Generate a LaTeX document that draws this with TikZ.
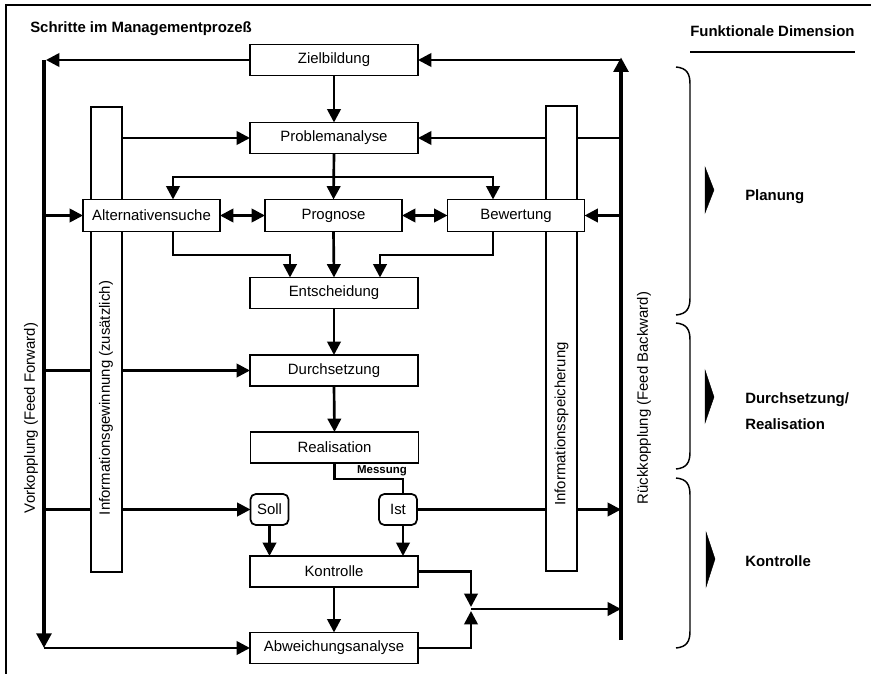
\documentclass[tikz,border=0pt]{standalone}
\usepackage{fontspec}
\setmainfont{Liberation Sans}
\usetikzlibrary{arrows.meta}
\pgfdeclarelayer{bg}
\pgfsetlayers{bg,main}
\newcommand{\dgfont}{\fontsize{11.2pt}{13pt}\selectfont}
\newcommand{\dgsmall}{\fontsize{8.6pt}{10pt}\selectfont\bfseries}
\tikzset{
  box/.style={draw, line width=1.3pt, fill=white, minimum width=126pt, minimum height=23.25pt, inner sep=0pt, outer sep=0pt, font=\dgfont},
  sbox/.style={box, minimum width=102.75pt, minimum height=24pt},
  rbox/.style={box, minimum width=28.5pt, minimum height=23.25pt, rounded corners=4pt},
  bar/.style={draw, line width=1.3pt, fill=white, minimum width=23.25pt, minimum height=348.75pt, inner sep=0pt, outer sep=0pt},
  conn/.style={line width=2pt},
  arr/.style={conn, -{Triangle[length=10pt,width=10pt]}},
  darr/.style={conn, {Triangle[length=10pt,width=10pt]}-{Triangle[length=10pt,width=10pt]}},
  thickline/.style={line width=3pt},
  vlabel/.style={rotate=90, font=\dgfont, inner sep=0pt},
  rlabel/.style={anchor=west, font=\dgfont\bfseries, inner sep=0pt},
  brace/.style={line width=1.1pt},
  pointer/.style={fill=black, draw=black, line width=0.3pt}
}
\begin{document}
\begin{tikzpicture}[x=0.75pt, y=-0.75pt]
\useasboundingbox (0,0) rectangle (871,674);
% frame
\draw[line width=0.8pt] (6,674) -- (6,5) -- (871,5);
% titles
\node[anchor=west, font=\dgfont\bfseries, inner sep=0pt] (title) at (30,28.5) {Schritte im Managementprozeß};
\node[anchor=west, font=\dgfont\bfseries, inner sep=0pt] (fdim) at (690,31) {Funktionale Dimension};
\draw[line width=0.8pt] (fdim.west |- 0,52) -- (fdim.east |- 0,52);

% bars
\node[bar] (barL) at (106.5,339.5) {};
\node[bar] (barR) at (561.5,338.5) {};
\node[vlabel] (tinfoL) at (106,398) {Informationsgewinnung (zusätzlich)};
\node[vlabel] (tinfoR) at (561.5,424) {Informationsspeicherung};
\node[vlabel] (trueck) at (644,398) {Rückkopplung (Feed Backward)};
\node[vlabel] (tvork) at (31,418) {Vorkopplung (Feed Forward)};

% boxes
\node[box] (ziel) at (334,60) {Zielbildung};
\node[box] (prob) at (334,138) {Problemanalyse};
\node[sbox] (alt) at (151.5,215.5) {Alternativensuche};
\node[sbox] (prog) at (333.5,215.5) {Prognose};
\node[sbox] (bew) at (516,215.5) {Bewertung};
\node[box] (ent) at (334,293) {Entscheidung};
\node[box] (durch) at (334,370.5) {Durchsetzung};
\node[box] (real) at (334.5,447.5) {Realisation};
\node[rbox] (soll) at (269.5,509.5) {Soll};
\node[rbox] (ist) at (398,509.5) {Ist};
\node[box] (kon) at (334,571.5) {Kontrolle};
\node[box] (abw) at (334,648) {Abweichungsanalyse};
\node[font=\dgsmall, inner sep=0pt] (mess) at (382,471) {Messung};

% coordinates
\coordinate (LT) at (44,60);
\coordinate (LB) at (44,648);
\coordinate (RT) at (621,60);
\coordinate (RB) at (621,640);
\coordinate (FL) at (173,177);
\coordinate (FR) at (493,177);
\coordinate (EL) at (290,255);
\coordinate (ER) at (380,255);
\coordinate (M) at (403,479);
\coordinate (J) at (471,609);

\begin{pgfonlayer}{bg}
% main flow
\draw[arr] (ziel.south) -- (prob.north);
\draw[arr] (prob.south) -- (prog.north);
\draw[darr] (FL |- alt.north) -- (FL) -- (FR) -- (FR |- bew.north);
\draw[darr] (alt.east) -- (prog.west);
\draw[darr] (prog.east) -- (bew.west);
\draw[arr] (FL |- alt.south) |- (EL) -- (EL |- ent.north);
\draw[arr] (prog.south) -- (ent.north);
\draw[arr] (FR |- bew.south) |- (ER) -- (ER |- ent.north);
\draw[arr] (ent.south) -- (durch.north);
\draw[arr] (durch.south) -- (real.north);
\draw[conn] (real.south) |- (M) -- (M |- ist.north);
\draw[arr] (soll.south) -- (soll.south |- kon.north);
\draw[arr] (M |- ist.south) -- (M |- kon.north);
\draw[arr] (kon.south) -- (abw.north);
\draw[arr] (kon.east) -| ([yshift=1.5pt]J);
\draw[arr] (abw.east) -| ([yshift=-1.5pt]J);
\draw[arr] (J) -- (RT |- J);
% feed forward (left)
\draw[arr] (ziel.west) -- ([xshift=1.5pt]LT);
\draw[arr] (LT |- alt.west) -- (alt.west);
\draw[arr] (LT |- durch.west) -- (durch.west);
\draw[arr] (LT |- soll.west) -- (soll.west);
\draw[arr] (barL.east |- prob.west) -- (prob.west);
\draw[arr] (LB) -- (abw.west);
% feed backward (right)
\draw[arr] (RT) -- (ziel.east);
\draw[arr] (RT |- prob.east) -- (prob.east);
\draw[arr] (RT |- bew.east) -- (bew.east);
\draw[arr] (ist.east) -- (RT |- ist.east);
% thick lines
\draw[thickline, -{Triangle[length=11pt,width=11pt]}] (LT) -- (LB);
\draw[thickline, -{Triangle[length=11pt,width=11pt]}] (RB) -- ([yshift=2pt]RT);
\end{pgfonlayer}

% braces and dimension labels
\draw[brace] (676,67) .. controls (687,68) and (690,74) .. (690,84) -- (690,298) .. controls (690,308) and (687,314) .. (676,315);
\draw[brace] (676,323) .. controls (687,324) and (690,330) .. (690,340) -- (690,452) .. controls (690,462) and (687,468) .. (676,469);
\draw[brace] (676,478) .. controls (687,479) and (690,485) .. (690,495) -- (690,631) .. controls (690,641) and (687,647) .. (676,648);
\draw[pointer] (705,167) -- (714,190) -- (705,213) -- cycle;
\draw[pointer] (705,370) -- (714,397) -- (705,423) -- cycle;
\draw[pointer] (706,532) -- (715,559) -- (706,587) -- cycle;
\node[rlabel] (plan) at (745,197) {Planung};
\node[rlabel] (dr1) at (745,400) {Durchsetzung/};
\node[rlabel] (dr2) at (745,424) {Realisation};
\node[rlabel] (kont) at (745,561) {Kontrolle};
\end{tikzpicture}
\end{document}
